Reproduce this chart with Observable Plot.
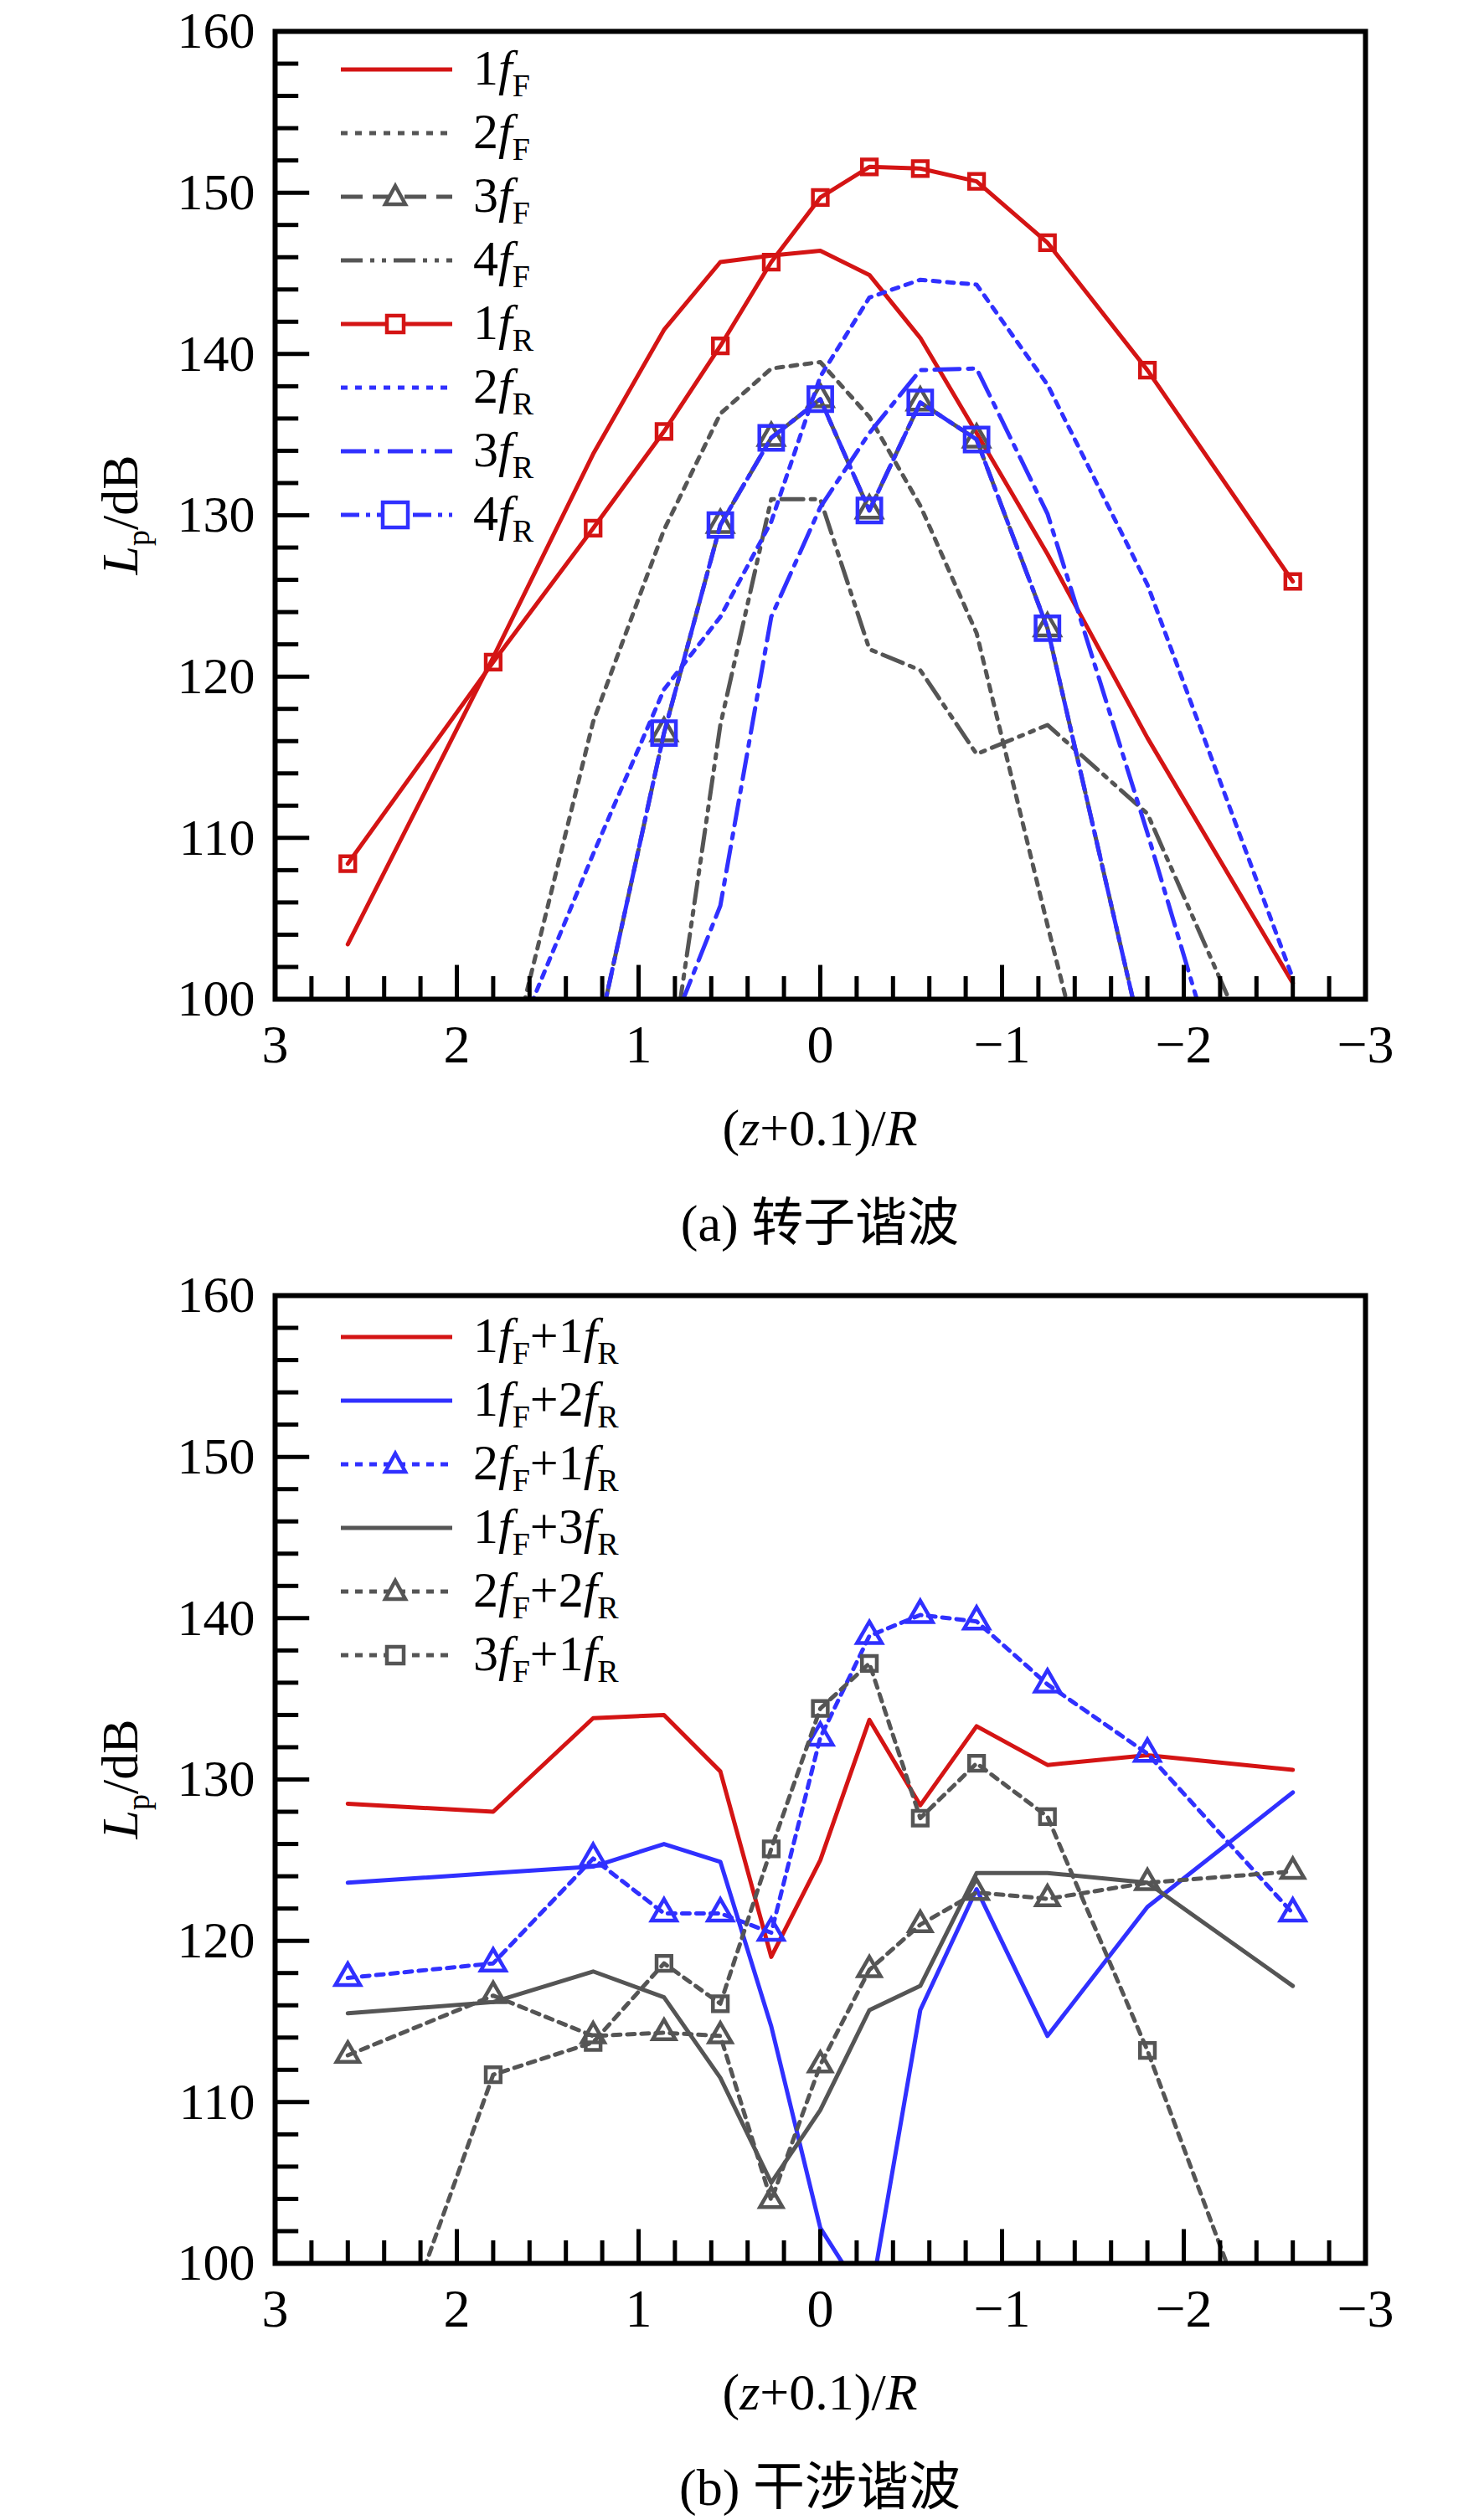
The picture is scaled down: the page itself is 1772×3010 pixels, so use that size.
<!DOCTYPE html>
<html>
<head>
<meta charset="utf-8">
<script src="https://cdn.jsdelivr.net/npm/d3@7"></script>
<script src="https://cdn.jsdelivr.net/npm/@observablehq/plot@0.6"></script>
<style>
  body { margin: 0; background: #fff; font-family: "Liberation Serif", "DejaVu Serif", "Noto Sans CJK SC", serif; }
  svg, svg text { font-family: "Liberation Serif", "DejaVu Serif", serif !important; }
  .panel { position: relative; width: 1772px; }
  .lab { position: absolute; font-size: 62px; color: #000; white-space: nowrap; }
  .legend { position: absolute; font-size: 60px; }
  .legend .row { position: absolute; left: 0; height: 70px; white-space: nowrap; }
  .legend svg { position: absolute; left: 0; top: 0; }
  .legend span { position: absolute; left: 160px; top: -2px; line-height: 70px; }
  sub { font-size: 38px; vertical-align: -14px; }
</style>
</head>
<body>
<div id="a" class="panel" style="height:1510px"></div>
<div id="b" class="panel" style="height:1500px"></div>
<script>
// x positions of the probe points, (z+0.1)/R
const xs = [2.6, 1.8, 1.25, 0.86, 0.55, 0.27, 0, -0.27, -0.55, -0.86, -1.25, -1.8, -2.6];

// (a) rotor harmonics, Lp in dB
const f1F = [103.4, 121.2, 133.8, 141.5, 145.7, 146.1, 146.4, 144.9, 141.0, 135.1, 127.6, 116.2, 101];
const f2F = [null, 92, 117.2, 129.1, 136.3, 139.1, 139.5, 136.1, 130.6, 122.7, 104.6, 80, null];
const f3F = [null, null, 96.4, 116.5, 129.4, 134.8, 137.2, 130.3, 137.0, 134.7, 123.0, 96.1, null];
const f4F = [null, null, null, 93, 117, 131, 131, 121.7, 120.4, 115.2, 117.0, 111.5, 91];
const f1R = [108.4, 120.9, 129.2, 135.2, 140.5, 145.7, 149.7, 151.6, 151.5, 150.7, 146.9, 139.0, 125.9];
const f2R = [null, 94, 109, 119.2, 123.7, 129.6, 138.6, 143.5, 144.6, 144.3, 138.1, 125.7, 101.3];
const f3R = [null, null, null, 97, 105.8, 123.7, 130.5, 135.1, 139.0, 139.1, 130.1, 110.3, 80];
const f4R = [null, null, 96.4, 116.5, 129.4, 134.8, 137.2, 130.3, 137.0, 134.7, 123.0, 96.1, null];

// (b) interference harmonics
const i11 = [128.5, 128.0, 133.8, 134.0, 130.5, 119.0, 125.0, 133.7, 128.4, 133.3, 130.9, 131.5, 130.6];
const i12 = [123.6, 124.2, 124.6, 126.0, 124.9, 114.7, 102.2, 97.4, 115.7, 123.2, 114.1, 122.1, 129.2];
const i21 = [117.7, 118.6, 125.1, 121.7, 121.7, 120.5, 132.6, 138.9, 140.2, 139.8, 135.9, 131.6, 121.7];
const i13 = [115.5, 116.2, 118.1, 116.5, 111.5, 105.0, 109.5, 115.7, 117.2, 124.2, 124.2, 123.6, 117.2];
const i22 = [112.9, 116.6, 114.1, 114.3, 114.1, 103.9, 112.3, 118.2, 121.0, 123.0, 122.6, 123.6, 124.3];
const i31 = [86.4, 111.7, 113.7, 118.6, 116.1, 125.7, 134.4, 137.2, 127.6, 131.0, 127.7, 113.2, 89];

const xTicks = [3, 2, 1, 0, -1, -2, -3];
const yTicks = [100, 110, 120, 130, 140, 150, 160];

const RED = "#d41414", GRAY = "#555", BLUE = "#3030ff";

const seriesA = [
  {name: ["1", "F"], y: f1F, stroke: RED, dash: null},
  {name: ["2", "F"], y: f2F, stroke: GRAY, dash: "8,9"},
  {name: ["3", "F"], y: f3F, stroke: GRAY, dash: "26,12", sym: "triangle", r: 11},
  {name: ["4", "F"], y: f4F, stroke: GRAY, dash: "26,9,5,9,5,9"},
  {name: ["1", "R"], y: f1R, stroke: RED, dash: null, sym: "square", r: 10},
  {name: ["2", "R"], y: f2R, stroke: BLUE, dash: "8,9"},
  {name: ["3", "R"], y: f3R, stroke: BLUE, dash: "30,10,6,10"},
  {name: ["4", "R"], y: f4R, stroke: BLUE, dash: "22,8,5,8", sym: "square", r: 16}
];
const seriesB = [
  {name: ["1", "F", "1", "R"], y: i11, stroke: RED, dash: null},
  {name: ["1", "F", "2", "R"], y: i12, stroke: BLUE, dash: null},
  {name: ["2", "F", "1", "R"], y: i21, stroke: BLUE, dash: "9,8", sym: "triangle", r: 11},
  {name: ["1", "F", "3", "R"], y: i13, stroke: GRAY, dash: null},
  {name: ["2", "F", "2", "R"], y: i22, stroke: GRAY, dash: "9,8", sym: "triangle", r: 10},
  {name: ["3", "F", "1", "R"], y: i31, stroke: GRAY, dash: "9,8", sym: "square", r: 10}
];

function label(n) {
  let s = `${n[0]}<i>f</i><sub>${n[1]}</sub>`;
  if (n.length > 2) s += `+${n[2]}<i>f</i><sub>${n[3]}</sub>`;
  return s;
}

function panel(id, series, caption, legendTop) {
  const marks = [];
  for (const s of series) {
    const pts = xs.map((x, i) => ({x, y: s.y[i]}));
    marks.push(Plot.line(pts, {x: "x", y: "y", stroke: s.stroke, strokeWidth: 5,
      strokeDasharray: s.dash, clip: true}));
    if (s.sym) {
      marks.push(Plot.dot(pts.filter(d => d.y != null && d.y >= 100), {x: "x", y: "y",
        symbol: s.sym, r: s.r, stroke: s.stroke, strokeWidth: 4.5, fill: "none"}));
    }
  }
  // inward ticks
  const xMinor = d3.range(-30, 31, 2).map(d => d / 10).filter(d => !xTicks.includes(d));
  const yMinor = d3.range(100, 161, 2).filter(d => d % 10 !== 0);
  marks.push(
    Plot.ruleX(xTicks, {y1: 100, y2: 102.1, stroke: "#000", strokeWidth: 5}),
    Plot.ruleX(xMinor, {y1: 100, y2: 101.4, stroke: "#000", strokeWidth: 5}),
    Plot.ruleY(yTicks, {x1: 3, x2: 3 - 0.19, stroke: "#000", strokeWidth: 5}),
    Plot.ruleY(yMinor, {x1: 3, x2: 3 - 0.13, stroke: "#000", strokeWidth: 5}),
    Plot.axisX(xTicks, {tickSize: 0, tickPadding: 30, fontSize: 64, tickFormat: d3.format("")}),
    Plot.axisY(yTicks, {tickSize: 0, tickPadding: 24, fontSize: 62}),
    Plot.frame({stroke: "#000", strokeWidth: 6})
  );
  const chart = Plot.plot({
    width: 1772, height: 1300,
    marginLeft: 328, marginRight: 142, marginTop: 37, marginBottom: 107,
    x: {domain: [3, -3], label: null},
    y: {domain: [100, 160], label: null},
    style: {fontFamily: "'Liberation Serif', serif", color: "#000", background: "none", overflow: "visible"},
    marks
  });
  const el = document.getElementById(id);
  el.append(chart);
  chart.style.position = "absolute"; chart.style.left = "0"; chart.style.top = "0";

  const add = (html, css) => {
    const d = document.createElement("div");
    d.className = "lab"; d.innerHTML = html; Object.assign(d.style, css);
    el.append(d);
  };
  add("<i>L</i><sub>p</sub>/dB", {left: "147px", top: "615px", transform: "translate(-50%,-50%) rotate(-90deg)"});
  add("(<i>z</i>+0.1)/<i>R</i>", {left: "979px", top: "1312px", transform: "translateX(-50%)"});
  add(caption, {left: "979px", top: "1410px", transform: "translateX(-50%)"});

  const lg = document.createElement("div");
  lg.className = "legend"; lg.style.left = "405px"; lg.style.top = legendTop + "px";
  series.forEach((s, i) => {
    const row = document.createElement("div");
    row.className = "row"; row.style.top = (i * 76) + "px";
    let sym = "";
    if (s.sym === "square") {
      const h = s.r === 16 ? 15 : 10;
      sym = `<rect x="${67 - h}" y="${35 - h}" width="${2 * h}" height="${2 * h}" fill="white" stroke="${s.stroke}" stroke-width="4.5"/>`;
    } else if (s.sym === "triangle") {
      sym = `<path d="M67,22 L79,44 L55,44 Z" fill="white" stroke="${s.stroke}" stroke-width="4.5"/>`;
    }
    row.innerHTML = `<svg width="140" height="70"><line x1="2" x2="135" y1="35" y2="35" stroke="${s.stroke}" stroke-width="5" ${s.dash ? `stroke-dasharray="${s.dash}"` : ""}/>${sym}</svg><span>${label(s.name)}</span>`;
    lg.append(row);
  });
  el.append(lg);
}

panel("a", seriesA, "(a) 转子谐波", 48);
panel("b", seriesB, "(b) 干涉谐波", 52);
</script>
</body>
</html>
